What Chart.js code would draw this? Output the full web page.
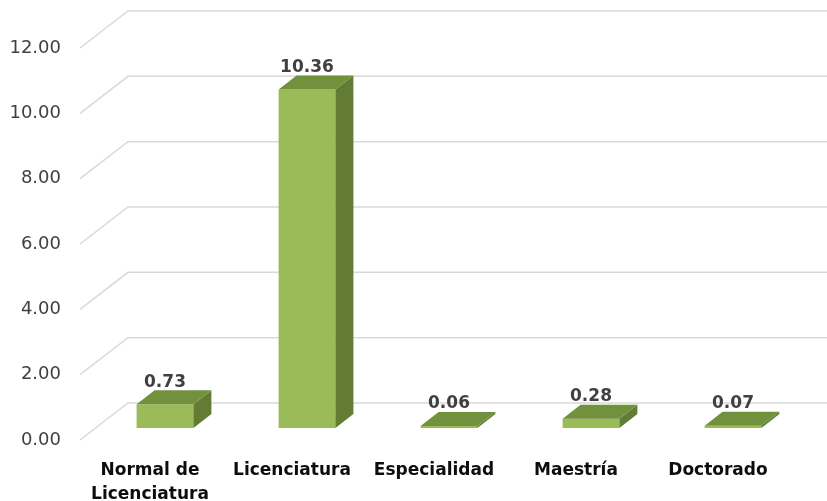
<!DOCTYPE html>
<html>
<head>
<meta charset="utf-8">
<script src="https://cdn.jsdelivr.net/npm/chart.js@4"></script>
<style>
  html, body { margin: 0; padding: 0; background: #fff; }
  #wrap { width: 827px; height: 501px; }
</style>
</head>
<body>
<div id="wrap"><canvas id="chart" width="827" height="501"></canvas></div>
<script>
// datos del grafico
const categories = [["Normal de", "Licenciatura"], "Licenciatura", "Especialidad", "Maestría", "Doctorado"];
const values = [0.73, 10.36, 0.06, 0.28, 0.07];
const yMin = 0;
const yMax = 12;
const yStep = 2;

// efecto 3D (px)
const SHIFT_X = 15, SHIFT_Y = -12;    // barra respecto al plano frontal
const BAR_DX = 18, BAR_DY = -14;      // profundidad de cada barra
const FLOOR_DX = 48, FLOOR_DY = -37;  // profundidad del piso / pared

const FRONT = "#9bbb59";
const TOP = "#71913c";
const SIDE = "#627d33";

const bar3d = {
  id: "bar3d",
  beforeDatasetsDraw(chart) {
    const { ctx, chartArea, scales: { y } } = chart;
    // lineas de division con perspectiva
    ctx.save();
    ctx.strokeStyle = "#d9d9d9";
    ctx.lineWidth = 1.5;
    y.ticks.forEach(t => {
      const py = y.getPixelForValue(t.value);
      const x0 = chartArea.left + 1;
      ctx.beginPath();
      ctx.moveTo(x0, py);
      ctx.lineTo(x0 + FLOOR_DX, py + FLOOR_DY);
      ctx.lineTo(chart.width, py + FLOOR_DY);
      ctx.stroke();
    });
    ctx.restore();
    // las barras se dibujan un poco hacia el fondo
    ctx.save();
    ctx.translate(SHIFT_X, SHIFT_Y);
  },
  afterDatasetsDraw(chart) {
    const { ctx } = chart;
    ctx.restore();
    const meta = chart.getDatasetMeta(0);
    ctx.save();
    meta.data.forEach((el, i) => {
      const { x, y, base, width } = el.getProps(["x", "y", "base", "width"], true);
      const L = x - width / 2 + SHIFT_X;
      const R = x + width / 2 + SHIFT_X;
      const T = y + SHIFT_Y;
      const B = base + SHIFT_Y;

      // cara lateral
      ctx.fillStyle = SIDE;
      ctx.beginPath();
      ctx.moveTo(R, T);
      ctx.lineTo(R + BAR_DX, T + BAR_DY);
      ctx.lineTo(R + BAR_DX, B + BAR_DY);
      ctx.lineTo(R, B);
      ctx.closePath();
      ctx.fill();

      // cara superior
      ctx.fillStyle = TOP;
      ctx.beginPath();
      ctx.moveTo(L, T);
      ctx.lineTo(L + BAR_DX, T + BAR_DY);
      ctx.lineTo(R + BAR_DX, T + BAR_DY);
      ctx.lineTo(R, T);
      ctx.closePath();
      ctx.fill();

      // etiqueta de valor
      ctx.fillStyle = "#404040";
      ctx.font = "bold 17px 'DejaVu Sans'";
      ctx.textAlign = "center";
      ctx.textBaseline = "middle";
      ctx.fillText(values[i].toFixed(2), (L + R) / 2, T + BAR_DY - 8);
    });
    ctx.restore();
  }
};

const ctx = document.getElementById("chart").getContext("2d");

new Chart(ctx, {
  type: "bar",
  data: {
    labels: categories,
    datasets: [{
      data: values,
      backgroundColor: FRONT,
      borderWidth: 0,
      categoryPercentage: 1,
      barPercentage: 0.4,
      clip: false
    }]
  },
  options: {
    responsive: false,
    animation: false,
    layout: { padding: { top: 48, right: 38, left: 0, bottom: 0 } },
    plugins: {
      legend: { display: false },
      tooltip: { enabled: false }
    },
    scales: {
      x: {
        grid: { display: false, drawTicks: false },
        border: { display: false },
        afterFit: (scale) => { scale.height = 61; },
        ticks: {
          color: "#0d0d0d",
          padding: 18,
          maxRotation: 0,
          autoSkip: false,
          font: { family: "'DejaVu Sans'", size: 17, weight: "bold", lineHeight: 1.45 }
        }
      },
      y: {
        min: yMin,
        max: yMax,
        grid: { display: false, drawTicks: false },
        border: { display: false },
        afterFit: (scale) => { scale.width = 79; },
        ticks: {
          stepSize: yStep,
          color: "#404040",
          padding: 18,
          font: { family: "'DejaVu Sans'", size: 18 },
          callback: (v) => Number(v).toFixed(2)
        }
      }
    }
  },
  plugins: [bar3d]
});
</script>
</body>
</html>
